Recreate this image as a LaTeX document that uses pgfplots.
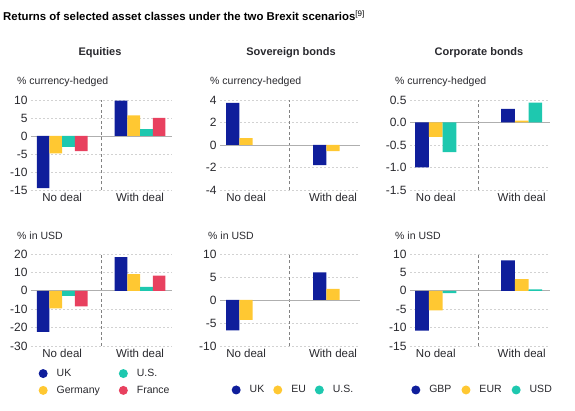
\documentclass[border=0pt]{standalone}
\usepackage{fontspec}
\setmainfont{Liberation Sans}
\usepackage{pgfplots}
\pgfplotsset{compat=1.18}
\definecolor{cUK}{RGB}{15,30,155}
\definecolor{cDE}{RGB}{255,200,50}
\definecolor{cUS}{RGB}{30,200,175}
\definecolor{cFR}{RGB}{232,65,95}
\definecolor{gridc}{RGB}{210,210,210}
\definecolor{zeroc}{RGB}{175,175,175}
\definecolor{divc}{RGB}{130,130,130}
\definecolor{txt}{RGB}{40,40,45}
\pgfplotsset{
  panel/.style={
    scale only axis, anchor=south west, clip=false,
    axis line style={draw=none},
    major tick length=0pt,
    ymajorgrids,
    major grid style={dash pattern=on 2pt off 2pt, color=gridc, line width=0.6pt},
    xtick={0,1}, xticklabels={No deal, With deal},
    xticklabel style={font=\fontsize{11.5}{13}\selectfont, text=txt},
    yticklabel style={font=\fontsize{12}{14}\selectfont, text=txt},
    /pgf/number format/assume math mode=true,
    extra x ticks={0.5}, extra x tick labels={},
    extra x tick style={grid=major, major grid style={dash pattern=on 3pt off 2.5pt, color=divc, line width=1pt}},
    extra y ticks={0}, extra y tick labels={},
    extra y tick style={grid=major, major grid style={solid, color=zeroc, line width=0.9pt}},
    legend style={draw=none, fill=none, inner sep=0pt, font=\fontsize{10.5}{12}\selectfont, text=txt,
      /tikz/every odd column/.append style={column sep=7pt}},
    legend cell align=left,
  },
  dotlegend/.style={legend image code/.code={\fill[##1] (0pt,0pt) circle (4.5pt);}},
}
\begin{document}
\begin{tikzpicture}
\useasboundingbox (0,0) rectangle (575pt,411pt);
\node[anchor=west, text=black, inner sep=0pt, font=\bfseries\fontsize{11.4}{13}\selectfont] at (3pt,395pt) {Returns of selected asset classes under the two Brexit scenarios\textsuperscript{\mdseries[9]}};
\node[text=txt, font=\bfseries\fontsize{11}{13}\selectfont] at (100pt,358pt) {Equities};
\node[text=txt, font=\bfseries\fontsize{11}{13}\selectfont] at (291pt,358pt) {Sovereign bonds};
\node[text=txt, font=\bfseries\fontsize{11}{13}\selectfont] at (479pt,358pt) {Corporate bonds};
\foreach \xx in {17,210,395} {
  \node[anchor=west, inner sep=0pt, text=txt, font=\fontsize{10.5}{12}\selectfont] at (\xx pt,329pt) {\% currency-hedged};
}
\foreach \xx in {17,208,395} {
  \node[anchor=west, inner sep=0pt, text=txt, font=\fontsize{10.5}{12}\selectfont] at (\xx pt,175pt) {\% in USD};
}

% ---- Equities, currency-hedged
\begin{axis}[panel, at={(31pt,221pt)}, width=141pt, height=90pt,
  xmin=-0.40, xmax=1.41, ymin=-15, ymax=10, ytick={-15,-10,...,10}]
\addplot[ybar, bar width=12.7pt, bar shift=-19.05pt, fill=cUK, draw=none] coordinates {(0,-14.5) (1,9.8)};
\addplot[ybar, bar width=12.7pt, bar shift=-6.35pt, fill=cDE, draw=none] coordinates {(0,-4.8) (1,5.7)};
\addplot[ybar, bar width=12.7pt, bar shift=6.35pt, fill=cUS, draw=none] coordinates {(0,-3.0) (1,1.9)};
\addplot[ybar, bar width=12.7pt, bar shift=19.05pt, fill=cFR, draw=none] coordinates {(0,-4.2) (1,5.0)};
\end{axis}

% ---- Sovereign bonds, currency-hedged
\begin{axis}[panel, at={(220pt,221pt)}, width=140pt, height=90pt,
  xmin=-0.30, xmax=1.31, ymin=-4, ymax=4, ytick={-4,-2,...,4}]
\addplot[ybar, bar width=13.3pt, bar shift=-13.3pt, fill=cUK, draw=none] coordinates {(0,3.75) (1,-1.8)};
\addplot[ybar, bar width=13.3pt, bar shift=0pt, fill=cDE, draw=none] coordinates {(0,0.6) (1,-0.55)};
\end{axis}

% ---- Corporate bonds, currency-hedged
\begin{axis}[panel, at={(410pt,221pt)}, width=140pt, height=90pt,
  xmin=-0.30, xmax=1.33, ymin=-1.5, ymax=0.5, ytick={-1.5,-1,...,0.5},
  yticklabel style={/pgf/number format/.cd, fixed, fixed zerofill, precision=1}]
\addplot[ybar, bar width=13.7pt, bar shift=-13.7pt, fill=cUK, draw=none] coordinates {(0,-1.0) (1,0.3)};
\addplot[ybar, bar width=13.7pt, bar shift=0pt, fill=cDE, draw=none] coordinates {(0,-0.32) (1,0.04)};
\addplot[ybar, bar width=13.7pt, bar shift=13.7pt, fill=cUS, draw=none] coordinates {(0,-0.66) (1,0.44)};
\end{axis}

% ---- Equities, in USD
\begin{axis}[panel, at={(31pt,65pt)}, width=141pt, height=92pt,
  xmin=-0.40, xmax=1.41, ymin=-30, ymax=20, ytick={-30,-20,...,20},
  legend columns=2, transpose legend,
  legend style={at={(axis description cs:0.053,-0.391)}, anchor=west,
    /tikz/every even column/.append style={column sep=17pt}, row sep=4pt}]
\addplot[ybar, bar width=12.7pt, bar shift=-19.05pt, fill=cUK, draw=none, dotlegend] coordinates {(0,-22.3) (1,18.3)};
\addplot[ybar, bar width=12.7pt, bar shift=-6.35pt, fill=cDE, draw=none, dotlegend] coordinates {(0,-9.5) (1,9.1)};
\addplot[ybar, bar width=12.7pt, bar shift=6.35pt, fill=cUS, draw=none, dotlegend] coordinates {(0,-2.7) (1,2.1)};
\addplot[ybar, bar width=12.7pt, bar shift=19.05pt, fill=cFR, draw=none, dotlegend] coordinates {(0,-8.5) (1,8.2)};
\legend{UK, Germany, U.S., France}
\end{axis}

% ---- Sovereign bonds, in USD
\begin{axis}[panel, at={(220pt,65pt)}, width=140pt, height=92pt,
  xmin=-0.30, xmax=1.31, ymin=-10, ymax=10, ytick={-10,-5,...,10},
  legend columns=3,
  legend style={at={(axis description cs:0.082,-0.478)}, anchor=west,
    /tikz/every even column/.append style={column sep=7pt}}]
\addplot[ybar, bar width=13.3pt, bar shift=-13.3pt, fill=cUK, draw=none, dotlegend] coordinates {(0,-6.6) (1,6.0)};
\addplot[ybar, bar width=13.3pt, bar shift=0pt, fill=cDE, draw=none, dotlegend] coordinates {(0,-4.3) (1,2.4)};
\addlegendimage{ybar, fill=cUS, draw=none, dotlegend}
\legend{UK, EU, U.S.}
\end{axis}

% ---- Corporate bonds, in USD
\begin{axis}[panel, at={(410pt,65pt)}, width=140pt, height=92pt,
  xmin=-0.30, xmax=1.33, ymin=-15, ymax=10, ytick={-15,-10,...,10},
  legend columns=3,
  legend style={at={(axis description cs:0.008,-0.478)}, anchor=west,
    /tikz/every even column/.append style={column sep=8pt}}]
\addplot[ybar, bar width=13.7pt, bar shift=-13.7pt, fill=cUK, draw=none, dotlegend] coordinates {(0,-10.8) (1,8.3)};
\addplot[ybar, bar width=13.7pt, bar shift=0pt, fill=cDE, draw=none, dotlegend] coordinates {(0,-5.3) (1,3.2)};
\addplot[ybar, bar width=13.7pt, bar shift=13.7pt, fill=cUS, draw=none, dotlegend] coordinates {(0,-0.6) (1,0.4)};
\legend{GBP, EUR, USD}
\end{axis}
\end{tikzpicture}
\end{document}
